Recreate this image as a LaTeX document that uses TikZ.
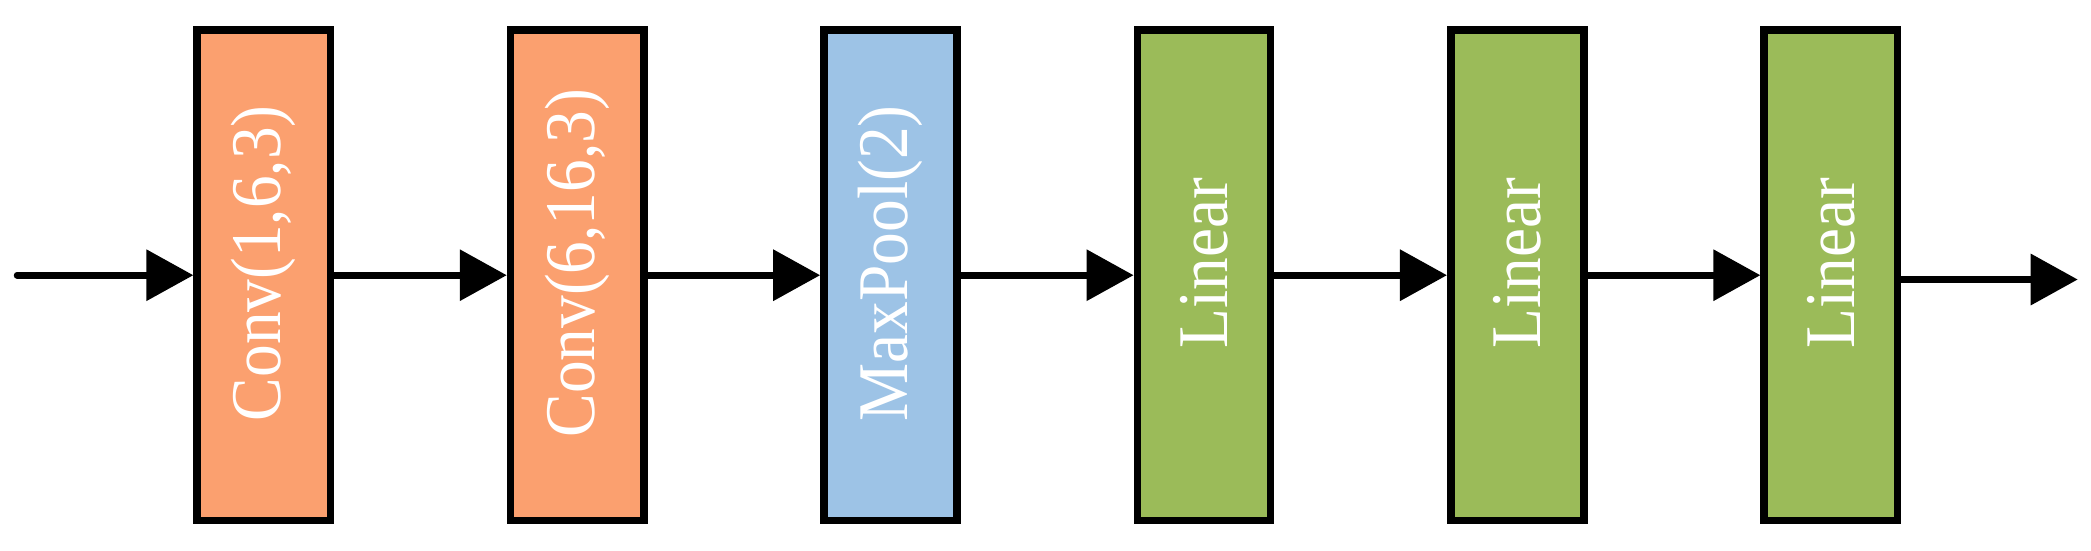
\documentclass[tikz,border=0pt]{standalone}
\usepackage{fontspec}
\setmainfont{Liberation Serif}
\usepackage{graphicx}
\usetikzlibrary{arrows.meta}
\definecolor{convc}{HTML}{FBA06F}
\definecolor{poolc}{HTML}{9DC3E6}
\definecolor{linc}{HTML}{9BBB59}
% rotated layer name, slightly tall letters
\newcommand{\lname}[1]{\rotatebox{90}{\hspace*{0.24cm}\scalebox{1}[1.09]{#1}}}
\tikzset{
    layer/.style={draw,line width=0.077cm,minimum width=1.332cm,minimum height=4.907cm,
      inner sep=0pt,text=white,font=\fontsize{18.6}{21}\selectfont},
    flow/.style={-{Triangle[length=0.47cm,width=0.5cm]},line width=0.067cm,line cap=round},
  }
\begin{document}
\begin{tikzpicture}
				  \useasboundingbox (0,0) rectangle (20.91,5.5);
				  %layers
				  \node[layer,fill=convc] (c1) at (2.638,2.748) {\lname{Conv(1,6,3)}};
				  \node[layer,fill=convc] (c2) at (5.772,2.748) {\lname{Conv(6,16,3)}};
				  \node[layer,fill=poolc] (p)  at (8.906,2.748) {\lname{MaxPool(2)}};
				  \node[layer,fill=linc]  (l1) at (12.040,2.748) {\lname{Linear}};
				  \node[layer,fill=linc]  (l2) at (15.174,2.748) {\lname{Linear}};
				  \node[layer,fill=linc]  (l3) at (18.308,2.748) {\lname{Linear}};
				  
				  %in and out
				  \coordinate(in) at (0.171,2.748);
				  \coordinate(out) at (20.777,2.705);
				  \draw[flow] (in) -- (c1);
				  \draw[flow] (c1) -- (c2);
				  \draw[flow] (c2) -- (p);
				  \draw[flow] (p) -- (l1);
				  \draw[flow] (l1) -- (l2);
				  \draw[flow] (l2) -- (l3);
				  \draw[flow] ([yshift=-0.043cm]l3.east) -- (out);
				  \end{tikzpicture}
\end{document}
